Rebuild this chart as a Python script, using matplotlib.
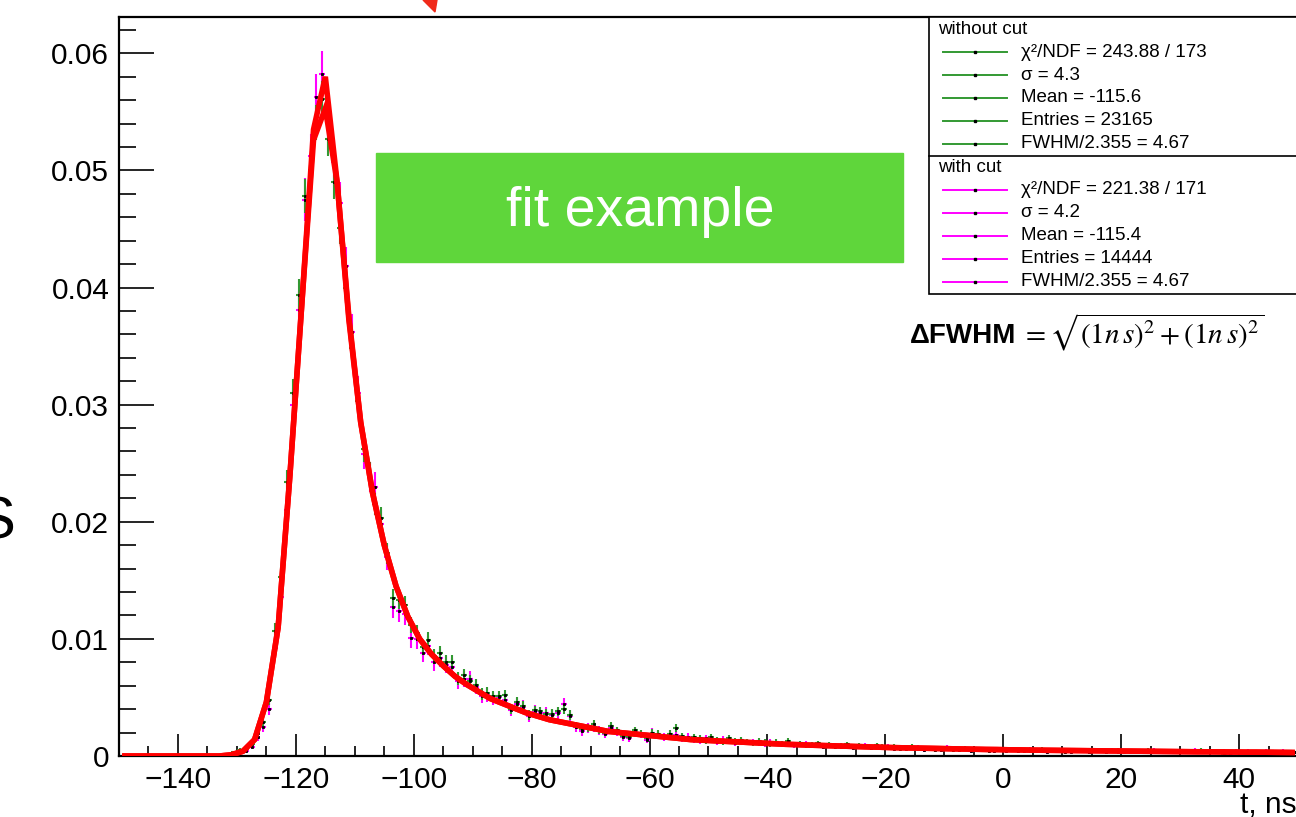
import numpy as np
import matplotlib
matplotlib.use("Agg")
import matplotlib.pyplot as plt
from matplotlib.patches import Rectangle, Polygon
from matplotlib.lines import Line2D

plt.rcParams['font.family'] = ['Liberation Sans', 'DejaVu Sans']
plt.rcParams['mathtext.fontset'] = 'stix'

# histogram: 1 ns bins, first bin centre at -131.5 (empty before)
first_center = -131.5

without_cut = [
    0.0001, 0.0003, 0.0005, 0.0006, 0.0010, 0.0020, 0.0029, 0.0048, 0.0107, 0.0153,
    0.0234, 0.0310, 0.0394, 0.0478, 0.0500, 0.0541, 0.0561, 0.0527, 0.0490, 0.0451,
    0.0400, 0.0348, 0.0303, 0.0262, 0.0241, 0.0215, 0.0203, 0.0173, 0.0135, 0.0133,
    0.0129, 0.0112, 0.0105, 0.0093, 0.0099, 0.0085, 0.0088, 0.0080, 0.0080, 0.0066,
    0.0069, 0.0064, 0.0061, 0.0053, 0.0054, 0.0051, 0.0051, 0.0052, 0.0040, 0.0046,
    0.0043, 0.0035, 0.0039, 0.0038, 0.0036, 0.0036, 0.0038, 0.0040, 0.0035, 0.0026,
    0.0023, 0.0024, 0.0027, 0.0022, 0.0020, 0.0026, 0.0022, 0.0017, 0.0016, 0.0022,
    0.0019, 0.0015, 0.0020, 0.0019, 0.0016, 0.0019, 0.0024,
    0.0017, 0.0014, 0.0016, 0.0015, 0.0013, 0.0016, 0.0014, 0.0012, 0.0015, 0.0013,
    0.0014, 0.0012, 0.0011, 0.0013, 0.0012, 0.0010, 0.0012, 0.0011, 0.0013, 0.0010,
    0.0011, 0.0009, 0.0010, 0.0011, 0.0009, 0.0010, 0.0008, 0.0009, 0.0010, 0.0008,
    0.0009, 0.0008, 0.0007, 0.0009, 0.0008,
    0.0007, 0.0008, 0.0006, 0.0007, 0.0008, 0.0006, 0.0007, 0.0006, 0.0005, 0.0007,
    0.0006, 0.0005, 0.0006, 0.0007, 0.0005, 0.0006, 0.0005, 0.0004, 0.0006, 0.0005,
    0.0005, 0.0006, 0.0004, 0.0005, 0.0004, 0.0005, 0.0006, 0.0004, 0.0005, 0.0004,
    0.0003, 0.0005, 0.0004, 0.0004, 0.0003, 0.0005, 0.0004, 0.0003, 0.0004, 0.0005,
    0.0003, 0.0004, 0.0003, 0.0004, 0.0005, 0.0003, 0.0004, 0.0003, 0.0004, 0.0003,
    0.0004, 0.0003, 0.0004, 0.0005, 0.0003, 0.0004, 0.0003, 0.0002, 0.0004, 0.0003,
    0.0004, 0.0003, 0.0004, 0.0003, 0.0002, 0.0004, 0.0003, 0.0003, 0.0004, 0.0003,
]

with_cut = [
    0.0000, 0.0002, 0.0003, 0.0004, 0.0008, 0.0016, 0.0025, 0.0040, 0.0092, 0.0136,
    0.0210, 0.0300, 0.0381, 0.0475, 0.0512, 0.0563, 0.0582, 0.0547, 0.0507, 0.0472,
    0.0418, 0.0362, 0.0310, 0.0258, 0.0238, 0.0230, 0.0198, 0.0170, 0.0127, 0.0124,
    0.0121, 0.0101, 0.0100, 0.0088, 0.0094, 0.0080, 0.0084, 0.0078, 0.0076, 0.0064,
    0.0066, 0.0066, 0.0059, 0.0051, 0.0052, 0.0049, 0.0050, 0.0048, 0.0039, 0.0044,
    0.0042, 0.0034, 0.0038, 0.0037, 0.0037, 0.0035, 0.0037, 0.0044, 0.0034, 0.0025,
    0.0021, 0.0024, 0.0025, 0.0022, 0.0019, 0.0024, 0.0021, 0.0016, 0.0015, 0.0021,
    0.0019, 0.0014, 0.0020, 0.0018, 0.0016, 0.0019, 0.0018,
    0.0015, 0.0016, 0.0014, 0.0013, 0.0015, 0.0014, 0.0012, 0.0014, 0.0013, 0.0011,
    0.0013, 0.0012, 0.0012, 0.0011, 0.0010, 0.0012, 0.0011, 0.0010, 0.0011, 0.0009,
    0.0010, 0.0010, 0.0009, 0.0010, 0.0008, 0.0009, 0.0009, 0.0008, 0.0009, 0.0007,
    0.0008, 0.0009, 0.0007, 0.0008, 0.0007,
    0.0008, 0.0006, 0.0007, 0.0006, 0.0007, 0.0007, 0.0005, 0.0006, 0.0006, 0.0005,
    0.0007, 0.0006, 0.0005, 0.0006, 0.0004, 0.0005, 0.0006, 0.0005, 0.0004, 0.0006,
    0.0004, 0.0005, 0.0005, 0.0004, 0.0006, 0.0004, 0.0005, 0.0003, 0.0004, 0.0005,
    0.0004, 0.0003, 0.0005, 0.0004, 0.0003, 0.0004, 0.0004, 0.0003, 0.0005, 0.0003,
    0.0004, 0.0003, 0.0004, 0.0004, 0.0003, 0.0005, 0.0003, 0.0004, 0.0003, 0.0004,
    0.0003, 0.0004, 0.0005, 0.0003, 0.0004, 0.0003, 0.0003, 0.0004, 0.0002, 0.0004,
    0.0003, 0.0004, 0.0003, 0.0003, 0.0004, 0.0002, 0.0003, 0.0004, 0.0003, 0.0003,
]

entries_without = 23165
entries_with = 14444

# fit curves, sampled every 2 ns starting at -149
fit_start = -149
fit_without = [
    0.0, 0.0, 0.0, 0.0, 0.0, 0.0, 0.0, 0.0, 0.0, 0.0001,
    0.0004, 0.0014, 0.0046, 0.0110, 0.0240, 0.0385, 0.0526, 0.0553, 0.0490, 0.0375,
    0.0285, 0.0225, 0.0180, 0.0145, 0.0119, 0.0100, 0.0087, 0.0077, 0.0068, 0.0061,
    0.0055, 0.0049, 0.0045, 0.0041, 0.0037, 0.0034, 0.0031, 0.0029, 0.0027, 0.0025,
    0.0023, 0.0021, 0.0020, 0.0019, 0.0018, 0.0017, 0.0016, 0.0015,
    0.0014, 0.00135, 0.0013, 0.00125, 0.0012, 0.00115, 0.0011, 0.00105, 0.0010, 0.00097,
    0.00093, 0.0009, 0.00087, 0.00084, 0.00081, 0.00078, 0.00075, 0.00072, 0.0007, 0.00068,
    0.00066, 0.00064, 0.00062, 0.0006, 0.00058, 0.00056, 0.00055,
    0.00053, 0.00052, 0.0005, 0.00049, 0.00048, 0.00047, 0.00046, 0.00045, 0.00044, 0.00043,
    0.00042, 0.00041, 0.0004, 0.00039, 0.00038, 0.00037, 0.00036, 0.00036, 0.00035, 0.00034,
    0.00033, 0.00033, 0.00032, 0.00031, 0.0003,
]
fit_with = [
    0.0, 0.0, 0.0, 0.0, 0.0, 0.0, 0.0, 0.0, 0.0, 0.0001,
    0.0004, 0.0014, 0.0046, 0.0110, 0.0240, 0.0385, 0.0535, 0.0580, 0.0490, 0.0372,
    0.0285, 0.0225, 0.0180, 0.0145, 0.0119, 0.0100, 0.0087, 0.0077, 0.0068, 0.0061,
    0.0055, 0.0049, 0.0045, 0.0041, 0.0037, 0.0034, 0.0031, 0.0029, 0.0027, 0.0025,
    0.0023, 0.0021, 0.0020, 0.0019, 0.0018, 0.0017, 0.0016, 0.0015,
    0.0014, 0.00135, 0.0013, 0.00125, 0.0012, 0.00115, 0.0011, 0.00105, 0.0010, 0.00097,
    0.00093, 0.0009, 0.00087, 0.00084, 0.00081, 0.00078, 0.00075, 0.00072, 0.0007, 0.00068,
    0.00066, 0.00064, 0.00062, 0.0006, 0.00058, 0.00056, 0.00055,
    0.00053, 0.00052, 0.0005, 0.00049, 0.00048, 0.00047, 0.00046, 0.00045, 0.00044, 0.00043,
    0.00042, 0.00041, 0.0004, 0.00039, 0.00038, 0.00037, 0.00036, 0.00036, 0.00035, 0.00034,
    0.00033, 0.00033, 0.00032, 0.00031, 0.0003,
]

legend_without = ["χ²/NDF = 243.88 / 173", "σ = 4.3", "Mean = -115.6",
                  "Entries = 23165", "FWHM/2.355 = 4.67"]
legend_with = ["χ²/NDF = 221.38 / 171", "σ = 4.2", "Mean = -115.4",
               "Entries = 14444", "FWHM/2.355 = 4.67"]

green = '#339933'
magenta = '#ff00ff'

W, H = 1296, 817
fig = plt.figure(figsize=(W / 100, H / 100), dpi=100)


def px(x, y):
    # pixel position measured from top-left -> figure fraction
    return x / W, 1 - y / H


ax = fig.add_axes([119 / W, 61 / H, (1298 - 119) / W, (756 - 17) / H])


def draw_hist(vals, entries, color):
    vals = np.asarray(vals)
    t = first_center + np.arange(len(vals))
    m = vals > 0
    err = np.sqrt(vals[m] / entries)
    ax.errorbar(t[m], vals[m], xerr=0.5, yerr=err, fmt='s', ms=1.5,
                mfc='k', mec='k', mew=0.6, ecolor=color, elinewidth=1.5,
                capsize=0, zorder=2)


draw_hist(with_cut, entries_with, magenta)
draw_hist(without_cut, entries_without, green)

for f in (fit_without, fit_with):
    ft = fit_start + 2 * np.arange(len(f))
    ax.plot(ft, f, color='red', lw=4, solid_joinstyle='miter', zorder=3)

ax.set_xlim(-150, 50)
ax.set_ylim(0, 0.0631)
ax.set_xticks(np.arange(-140, 41, 20))
ax.set_xticks(np.arange(-150, 51, 5), minor=True)
ax.set_yticks(np.arange(0, 0.061, 0.01))
ax.set_yticks(np.arange(0, 0.063, 0.002), minor=True)
ax.set_yticklabels(['0', '0.01', '0.02', '0.03', '0.04', '0.05', '0.06'])
ax.tick_params(axis='x', which='major', direction='in', length=15.5, width=1.2,
               labelsize=21.5, pad=7)
ax.tick_params(axis='x', which='minor', direction='in', length=7.5, width=1.2)
ax.tick_params(axis='y', which='major', direction='in', length=25, width=1.2,
               labelsize=21.5, pad=7)
ax.tick_params(axis='y', which='minor', direction='in', length=12.5, width=1.2)
for s in ax.spines.values():
    s.set_linewidth(1.6)

# axis titles, cut by the screenshot edges like in the source image
fig.text(*px(1240, 813), 't, ns', fontsize=21.5, ha='left', va='baseline')
fig.text(*px(15, 523), 'S', fontsize=43, ha='right', va='center')

# red arrow tip at the top edge
fig.patches.append(Polygon([px(423, 0), px(437, 0), px(435, 12)], closed=True,
                           transform=fig.transFigure, color='#f02a1a'))

# green label box
x0, y0 = px(376, 262)
fig.patches.append(Rectangle((x0, y0), 527 / W, 109 / H, transform=fig.transFigure,
                             color='#5fd63b', zorder=5))
fig.text(*px(640, 212), 'fit example', color='white', fontsize=40,
         ha='center', va='center', zorder=6)

# stats legend box
lx, ly = px(929, 294)
fig.patches.append(Rectangle((lx, ly), (1300 - 929) / W, (294 - 17) / H,
                             transform=fig.transFigure, fc='white', ec='black',
                             lw=1.2, zorder=5))
fig.lines.append(Line2D([929 / W, 1], [1 - 156 / H] * 2, transform=fig.transFigure,
                        color='black', lw=1.2, zorder=6))

rows = [(29, 'without cut', None)]
rows += [(52.3 + 22.8 * i, s, green) for i, s in enumerate(legend_without)]
rows += [(167, 'with cut', None)]
rows += [(190 + 22.9 * i, s, magenta) for i, s in enumerate(legend_with)]
for yy, s, c in rows:
    if c is None:
        fig.text(*px(938, yy), s, fontsize=13.5, ha='left', va='center', zorder=7)
        continue
    fig.lines.append(Line2D([943 / W, 1007 / W], [1 - yy / H] * 2,
                            transform=fig.transFigure, color=c, lw=1.4, zorder=7))
    fig.lines.append(Line2D([975 / W], [1 - yy / H], transform=fig.transFigure,
                            marker='s', ms=1.5, color='k', zorder=8))
    fig.text(*px(1021, yy), s, fontsize=13.5, ha='left', va='center', zorder=7)

# resolution formula
fig.text(*px(1016, 343), 'ΔFWHM', fontsize=20, fontweight='bold',
         ha='right', va='baseline')
fig.text(*px(1021, 343), r'$=\sqrt{(1n\,s)^2+(1n\,s)^2}$', fontsize=21,
         ha='left', va='baseline')

fig.savefig('out.png', dpi=100)
